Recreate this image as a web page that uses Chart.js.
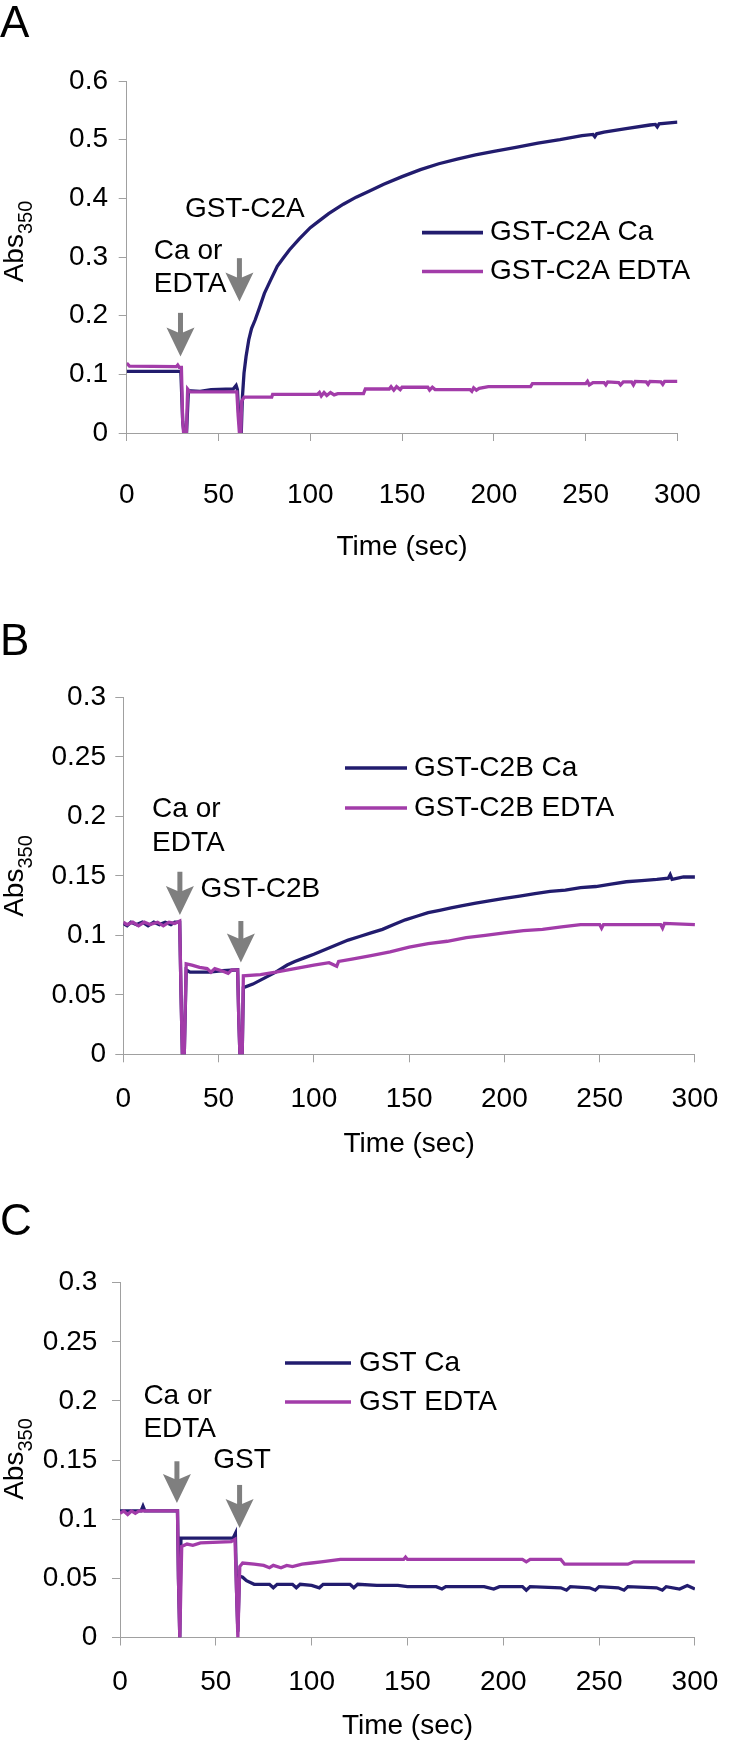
<!DOCTYPE html>
<html>
<head>
    <title>Abs350 time courses</title>
    <script src="https://cdn.jsdelivr.net/npm/chart.js"></script>
    <style>
        body {
            margin: 0;
            background: #fff;
        }

        #wrap {
            position: relative;
            width: 738px;
            height: 1745px;
        }

        canvas {
            position: absolute;
            left: 0;
        }
    </style>
</head>
<body>
<div id="wrap">
    <canvas id="chartA" width="738" height="580" style="top:0px"></canvas>
    <canvas id="chartB" width="738" height="580" style="top:590px"></canvas>
    <canvas id="chartC" width="738" height="575" style="top:1170px"></canvas>
</div>
<script>
    // [time (sec), Abs350]
    const caA = [[0, 0.105], [28.5, 0.105], [29.5, 0.105], [30.5, 0.02], [31.2, 0], [32.6, 0], [33.6, 0.072], [40, 0.071],
        [46, 0.074], [58, 0.075], [59.6, 0.081], [60.3, 0.074], [61.2, 0.02], [62.4, 0], [63, 0.06], [63.9, 0.102],
        [65, 0.13], [66.5, 0.159], [68, 0.178], [70, 0.193], [72.5, 0.215], [75, 0.238], [78, 0.258], [82, 0.284],
        [85, 0.297], [88.6, 0.312], [94, 0.331], [100, 0.350], [105, 0.362], [110, 0.374], [118, 0.390], [125, 0.402],
        [132, 0.412], [140, 0.424], [150, 0.437], [160, 0.449], [170, 0.459], [180, 0.467], [190, 0.474], [200, 0.480],
        [212, 0.487], [224, 0.494], [236, 0.500], [248, 0.507], [254, 0.509], [255, 0.505], [256, 0.510], [260, 0.513],
        [272, 0.519], [285, 0.525], [288, 0.526], [289, 0.522], [290, 0.527], [300, 0.530]];
    const edtaA = [[0, 0.119], [1.5, 0.114], [27, 0.113], [27.8, 0.116], [28.6, 0.112], [29.8, 0.112], [30.5, 0.02],
        [31, 0], [32.5, 0], [33.2, 0.075], [34.5, 0.070], [60, 0.070], [60.7, 0.03], [61.4, 0], [62.2, 0], [62.6, 0.054],
        [64, 0.061], [79, 0.061], [79.5, 0.066], [104, 0.066], [105, 0.069], [106, 0.063], [107.5, 0.069], [109, 0.064],
        [111, 0.069], [113, 0.065], [115, 0.067], [129, 0.067], [130, 0.075], [143, 0.075], [144, 0.079], [145.5, 0.073],
        [147, 0.079], [149, 0.074], [150, 0.078], [164, 0.078], [165, 0.073], [166.5, 0.078], [168, 0.074], [187, 0.074],
        [188, 0.071], [189, 0.077], [190.5, 0.073], [192, 0.076], [197, 0.079], [220, 0.079], [221, 0.084], [250, 0.084],
        [251, 0.088], [252, 0.082], [254, 0.086], [260, 0.086], [261, 0.082], [262, 0.087], [268, 0.086], [269, 0.082],
        [270.5, 0.087], [275, 0.087], [276, 0.082], [277, 0.088], [283, 0.087], [284, 0.083], [285, 0.088], [291, 0.087],
        [292, 0.083], [293, 0.088], [300, 0.088]];

    const caB = [[0, 0.110], [2, 0.108], [4, 0.111], [7, 0.109], [10, 0.111], [13, 0.108], [16, 0.111], [19, 0.109],
        [22, 0.111], [25, 0.109], [27, 0.111], [29.6, 0.111], [30.3, 0.05], [31, 0], [32, 0], [33, 0.071], [35, 0.069],
        [45, 0.069], [50, 0.070], [60, 0.071], [60.6, 0.03], [61.2, 0], [62.4, 0], [63, 0.056], [68, 0.059], [74, 0.064],
        [80, 0.069], [86, 0.075], [90, 0.078], [95, 0.081], [100, 0.084], [106, 0.088], [112, 0.092], [118, 0.096],
        [124, 0.099], [130, 0.102], [136, 0.105], [142, 0.109], [148, 0.113], [154, 0.116], [160, 0.119], [166, 0.121],
        [172, 0.123], [178, 0.125], [185, 0.127], [192, 0.129], [200, 0.131], [208, 0.133], [216, 0.135], [224, 0.137],
        [232, 0.138], [240, 0.140], [248, 0.141], [256, 0.143], [264, 0.145], [272, 0.146], [280, 0.147], [286, 0.148],
        [287, 0.151], [288, 0.147], [294, 0.149], [300, 0.149]];
    const edtaB = [[0, 0.111], [2, 0.109], [5, 0.111], [8, 0.108], [11, 0.111], [14, 0.109], [18, 0.111], [21, 0.108],
        [24, 0.111], [27, 0.110], [29.6, 0.112], [30.3, 0.05], [31, 0], [32, 0], [33, 0.076], [36, 0.075], [40, 0.073],
        [44, 0.072], [46, 0.069], [48, 0.072], [52, 0.070], [55, 0.068], [57, 0.071], [60, 0.071], [60.6, 0.03],
        [61.2, 0], [62.4, 0], [63, 0.066], [72, 0.067], [80, 0.069], [90, 0.072], [100, 0.075], [108, 0.077],
        [112, 0.074], [113, 0.078], [120, 0.080], [130, 0.083], [140, 0.086], [150, 0.090], [160, 0.093], [170, 0.095],
        [180, 0.098], [190, 0.100], [200, 0.102], [210, 0.104], [220, 0.105], [230, 0.107], [240, 0.109], [250, 0.109],
        [251, 0.106], [252, 0.109], [270, 0.109], [282, 0.109], [283, 0.106], [284, 0.110], [300, 0.109]];

    const caC = [[0, 0.107], [11, 0.107], [12, 0.111], [13, 0.107], [30, 0.107], [30.5, 0.05], [31.2, 0], [31.8, 0.084],
        [59, 0.084], [60.2, 0.088], [60.8, 0.04], [61.5, 0.005], [62.3, 0.052], [64, 0.051], [66, 0.048], [70, 0.045],
        [78, 0.045], [80, 0.042], [82, 0.045], [90, 0.045], [92, 0.042], [94, 0.045], [100, 0.044], [104, 0.042],
        [106, 0.045], [120, 0.045], [122, 0.042], [124, 0.045], [134, 0.044], [145, 0.044], [150, 0.043], [165, 0.043],
        [168, 0.041], [170, 0.043], [190, 0.043], [195, 0.041], [198, 0.043], [210, 0.043], [212, 0.040], [214, 0.043],
        [230, 0.042], [233, 0.040], [235, 0.043], [245, 0.042], [248, 0.040], [250, 0.043], [260, 0.042], [263, 0.040],
        [265, 0.043], [280, 0.042], [283, 0.040], [285, 0.043], [292, 0.041], [296, 0.044], [300, 0.041]];
    const edtaC = [[0, 0.105], [2, 0.107], [4, 0.104], [6, 0.107], [8, 0.105], [10, 0.107], [30, 0.107], [30.5, 0.05],
        [31.2, 0], [32.2, 0.077], [35, 0.079], [38, 0.078], [42, 0.080], [58, 0.081], [60, 0.083], [60.8, 0.04],
        [61.5, 0], [62.5, 0.060], [64, 0.063], [70, 0.062], [75, 0.061], [78, 0.059], [80, 0.061], [84, 0.059],
        [87, 0.061], [90, 0.060], [95, 0.062], [100, 0.063], [105, 0.064], [115, 0.066], [148, 0.066], [149, 0.068],
        [150, 0.066], [210, 0.066], [212, 0.064], [214, 0.066], [230, 0.066], [232, 0.062], [265, 0.062], [268, 0.064],
        [300, 0.064]];

    const seriesLabels = {
        A: ['GST-C2A Ca', 'GST-C2A EDTA'],
        B: ['GST-C2B Ca', 'GST-C2B EDTA'],
        C: ['GST Ca', 'GST EDTA']
    };
    const xTicks = [0, 50, 100, 150, 200, 250, 300];

    const FONT = '"Liberation Sans", Arial, sans-serif';
    const TEXT_SIZE = 28;
    const CA_COLOR = '#221c6e';
    const EDTA_COLOR = '#a23ca9';
    const AXIS_COLOR = '#a0a0a0';
    const ARROW_COLOR = '#7f7f7f';

    Chart.defaults.font.family = FONT;

    function toPoints(rows) {
        return rows.map(r => ({x: r[0], y: r[1]}));
    }

    // letter, y title, legend, arrows and notes
    const panelDecor = {
        id: 'panelDecor',
        afterDraw(chart, args, o) {
            const ctx = chart.ctx;
            const xs = chart.scales.x;
            const ys = chart.scales.y;
            ctx.save();
            ctx.fillStyle = '#000';

            ctx.font = '44px ' + FONT;
            ctx.textBaseline = 'alphabetic';
            ctx.textAlign = 'left';
            ctx.fillText(o.letter, 0, o.letterY);

            // Abs with subscript 350, rotated
            ctx.save();
            ctx.translate(o.yTitleX, o.yTitleCY);
            ctx.rotate(-Math.PI / 2);
            ctx.font = '28px ' + FONT;
            const w1 = ctx.measureText('Abs').width;
            ctx.font = '20px ' + FONT;
            const w2 = ctx.measureText('350').width;
            const sx = -(w1 + w2) / 2;
            ctx.font = '28px ' + FONT;
            ctx.fillText('Abs', sx, 0);
            ctx.font = '20px ' + FONT;
            ctx.fillText('350', sx + w1, 9);
            ctx.restore();

            // legend
            ctx.font = TEXT_SIZE + 'px ' + FONT;
            ctx.textBaseline = 'middle';
            chart.data.datasets.forEach((ds, i) => {
                const yy = o.legend.rows[i];
                ctx.strokeStyle = ds.borderColor;
                ctx.lineWidth = 3.6;
                ctx.beginPath();
                ctx.moveTo(o.legend.x0, yy);
                ctx.lineTo(o.legend.x1, yy);
                ctx.stroke();
                ctx.fillText(ds.label, o.legend.tx, yy);
            });

            // notes
            o.notes.forEach(n => {
                ctx.fillText(n.text, xs.getPixelForValue(n.t), ys.getPixelForValue(n.v));
            });

            // arrows
            ctx.fillStyle = ARROW_COLOR;
            o.arrows.forEach(a => {
                const px = xs.getPixelForValue(a.t);
                const tip = ys.getPixelForValue(a.tip);
                const tail = ys.getPixelForValue(a.tail);
                ctx.fillRect(px - 2.5, tail, 5, tip - tail - 20);
                ctx.beginPath();
                ctx.moveTo(px, tip);
                ctx.lineTo(px - 14, tip - 29);
                ctx.lineTo(px, tip - 23);
                ctx.lineTo(px + 14, tip - 29);
                ctx.closePath();
                ctx.fill();
            });
            ctx.restore();
        }
    };

    function makePanel(p) {
        return new Chart(document.getElementById(p.id), {
            type: 'line',
            data: {
                datasets: [
                    {
                        label: p.labels[0],
                        data: toPoints(p.ca),
                        borderColor: CA_COLOR,
                        borderWidth: 3.3,
                        pointRadius: 0,
                        tension: 0,
                        order: 2
                    },
                    {
                        label: p.labels[1],
                        data: toPoints(p.edta),
                        borderColor: EDTA_COLOR,
                        borderWidth: 3.3,
                        pointRadius: 0,
                        tension: 0,
                        order: 1
                    }
                ]
            },
            options: {
                responsive: false,
                animation: false,
                devicePixelRatio: 1,
                layout: {padding: {left: 0, top: p.padTop, right: p.padRight, bottom: 0}},
                plugins: {
                    legend: {display: false},
                    tooltip: {enabled: false},
                    panelDecor: p.decor
                },
                scales: {
                    x: {
                        type: 'linear',
                        min: 0,
                        max: 300,
                        afterBuildTicks: axis => {
                            axis.ticks = xTicks.map(v => ({value: v}));
                        },
                        afterFit: axis => {
                            axis.height = p.xHeight;
                        },
                        ticks: {color: '#000', font: {size: TEXT_SIZE}, padding: p.xTickPad, maxRotation: 0},
                        grid: {drawOnChartArea: false, tickLength: 8, color: AXIS_COLOR},
                        border: {color: AXIS_COLOR},
                        title: {
                            display: true,
                            text: 'Time (sec)',
                            color: '#000',
                            font: {size: TEXT_SIZE},
                            padding: {top: 0, bottom: p.titlePad}
                        }
                    },
                    y: {
                        min: 0,
                        max: p.yMax,
                        ticks: {
                            stepSize: p.yStep,
                            color: '#000',
                            font: {size: TEXT_SIZE},
                            padding: p.yTickPad,
                            callback: v => String(Number(v.toFixed(2)))
                        },
                        afterFit: axis => {
                            axis.width = p.yWidth;
                        },
                        grid: {drawOnChartArea: false, tickLength: 8, color: AXIS_COLOR},
                        border: {color: AXIS_COLOR}
                    }
                }
            },
            plugins: [panelDecor]
        });
    }

    makePanel({
        id: 'chartA', labels: seriesLabels.A, ca: caA, edta: edtaA,
        yMax: 0.6, yStep: 0.1, padTop: 81, padRight: 24.7, yWidth: 126.7, xHeight: 147,
        xTickPad: 37.2, yTickPad: 10.7, titlePad: 16.2,
        decor: {
            letter: 'A', letterY: 37, yTitleX: 22.5, yTitleCY: 241.5,
            legend: {x0: 422, x1: 483, tx: 490, rows: [232.6, 271.5]},
            notes: [{text: 'GST-C2A', t: 31.7, v: 0.3805}, {text: 'Ca or', t: 14.8, v: 0.3106},
                {text: 'EDTA', t: 14.8, v: 0.254}],
            arrows: [{t: 29.3, tip: 0.1305, tail: 0.2048}, {t: 61.4, tip: 0.224, tail: 0.298}]
        }
    });

    makePanel({
        id: 'chartB', labels: seriesLabels.B, ca: caB, edta: edtaB,
        yMax: 0.3, yStep: 0.05, padTop: 107.3, padRight: 24.7, yWidth: 123.3, xHeight: 115.7,
        xTickPad: 19.7, yTickPad: 9.3, titlePad: 8.6,
        decor: {
            letter: 'B', letterY: 65, yTitleX: 22.5, yTitleCY: 286,
            legend: {x0: 345, x1: 407, tx: 414, rows: [178, 218]},
            notes: [{text: 'Ca or', t: 15.1, v: 0.2061}, {text: 'EDTA', t: 15.1, v: 0.1776},
                {text: 'GST-C2B', t: 40.5, v: 0.1389}],
            arrows: [{t: 29.7, tip: 0.117, tail: 0.1534}, {t: 61.7, tip: 0.0771, tail: 0.112}]
        }
    });

    makePanel({
        id: 'chartC', labels: seriesLabels.C, ca: caC, edta: edtaC,
        yMax: 0.3, yStep: 0.05, padTop: 112.7, padRight: 29.7, yWidth: 120, xHeight: 107.5,
        xTickPad: 19.7, yTickPad: 14.7, titlePad: 2.2,
        decor: {
            letter: 'C', letterY: 65, yTitleX: 22.5, yTitleCY: 289,
            legend: {x0: 285, x1: 351, tx: 359, rows: [193, 232]},
            notes: [{text: 'Ca or', t: 12.2, v: 0.2038}, {text: 'EDTA', t: 12.2, v: 0.1758},
                {text: 'GST', t: 48.7, v: 0.1496}],
            arrows: [{t: 29.7, tip: 0.1137, tail: 0.149}, {t: 62.4, tip: 0.0925, tail: 0.129}]
        }
    });
</script>
</body>
</html>
